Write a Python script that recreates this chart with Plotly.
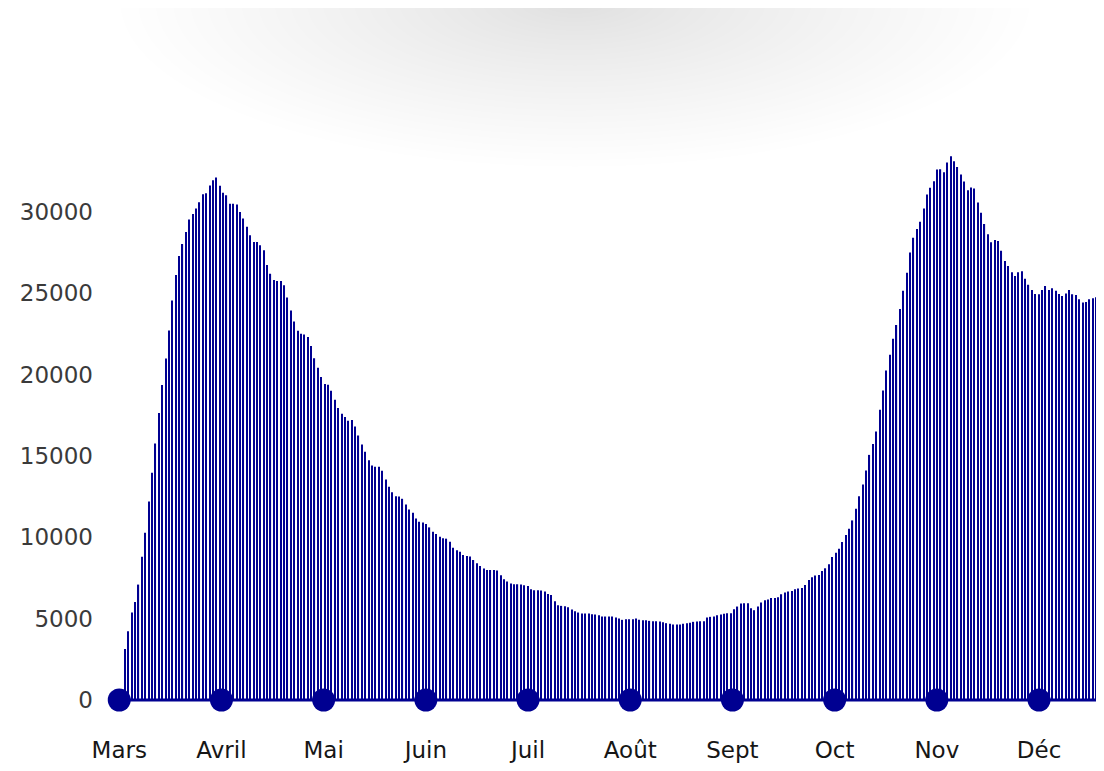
import plotly.graph_objects as go

# Daily values (one bar per day)
hosp_values = [
    3126, 4230, 5376, 6027, 7091, 8808, 10278, 12199, 13956, 15754,
    17634, 19350, 20985, 22702, 24540, 26114, 27279, 28014, 28750, 29526,
    29853, 30200, 30589, 31079, 31140, 31611, 31937, 32103, 31588, 31159,
    31018, 30485, 30485, 30448, 29976, 29589, 29075, 28547, 28137, 28137,
    27934, 27628, 26727, 26193, 25807, 25746, 25746, 25482, 24722, 23925,
    23251, 22681, 22500, 22450, 22300, 21750, 21000,
    20413, 19843, 19414, 19371, 19003, 18451, 17942, 17593, 17390, 17164,
    17207, 16796, 16245, 15693, 15245, 14730, 14406, 14326, 14326, 14081,
    13547, 13100, 12769, 12524, 12505, 12363, 12015, 11708, 11506, 11157,
    10954, 10911, 10807, 10605, 10341, 10194, 10035, 9931, 9912, 9728,
    9361, 9195, 9115, 8907, 8846, 8809, 8600, 8398, 8233, 8073,
    7987, 7987, 7987, 7960, 7663, 7417, 7274, 7151, 7111, 7111,
    7090, 7050, 7009, 6804, 6743, 6743, 6720, 6661, 6518, 6457, 6069,
    5824, 5783, 5762, 5701, 5558, 5456, 5374, 5313, 5313, 5313,
    5272, 5251, 5211, 5129, 5129, 5129, 5129, 5068, 5007, 4925,
    4966, 4966, 4966, 5007, 4925, 4904, 4904, 4863, 4843, 4843,
    4822, 4781, 4720, 4679, 4638, 4638, 4638, 4679, 4720, 4740,
    4802, 4822, 4843, 4843, 5068, 5109, 5129, 5211, 5251, 5292,
    5333, 5333, 5578, 5742, 5926, 5946, 5946, 5640, 5517, 5742,
    5987, 6130, 6171, 6273, 6273, 6314, 6498, 6600, 6661, 6702,
    6804, 6845, 6886, 7070, 7376, 7540, 7642, 7683, 7928,
    8092, 8337, 8786, 9052, 9297, 9706, 10135, 10522, 11034, 11748,
    12524, 13241, 14099, 15060, 15733, 16490, 17838, 19021, 20247, 21210,
    22191, 23040, 24030, 25140, 26245, 27490,
    28400, 28934, 29381, 30200, 31061, 31466, 31876, 32593, 32612, 32428,
    33022, 33409, 33102, 32753, 32287, 31858, 31324, 31490, 31428, 30570,
    29933, 29240, 28609, 28118, 28259, 28198, 27603, 26972, 26666, 26279,
    26053, 26279, 26340, 25887, 25519, 25194, 24949, 24929, 25194, 25440,
    25194, 25298, 25151, 24949, 24827, 24970, 25194, 24929, 24888, 24622,
    24416, 24459, 24622, 24684, 24745, 24581, 24416,
]

month_labels = ["Mars", "Avril", "Mai", "Juin", "Juil", "Août", "Sept", "Oct", "Nov", "Déc"]
month_positions = [-1.7, 28.5, 58.7, 88.9, 119.1, 149.3, 179.5, 209.7, 239.9, 270.1]

y_tick_values = [0, 5000, 10000, 15000, 20000, 25000, 30000]
y_tick_labels = ["0", "5000", "10000", "15000", "20000", "25000", "30000"]

BLUE = "#000091"
# page has an 8px body margin: figure is 1096x763 so it fits the window
W, H = 1096, 763
ML, MR, MT, MB = 92, 0, 112, 51

day_index = list(range(len(hosp_values)))
x_range = [-7.39, len(hosp_values) - 0.7]
y_range = [-1229, 35635]

fig = go.Figure()

fig.add_trace(go.Bar(
    x=day_index, y=hosp_values,
    marker=dict(color=BLUE, line=dict(width=0)),
    hoverinfo="skip", showlegend=False,
))

fig.add_trace(go.Scatter(
    x=[month_positions[0], x_range[1]], y=[0, 0],
    mode="lines", line=dict(color=BLUE, width=3),
    hoverinfo="skip", showlegend=False, cliponaxis=False,
))

fig.add_trace(go.Scatter(
    x=month_positions, y=[0] * len(month_positions),
    mode="markers", marker=dict(color=BLUE, size=23, line=dict(width=0)),
    hoverinfo="skip", showlegend=False, cliponaxis=False,
))

# soft grey shadow at the top of the page
pw = W - ML - MR
ph = H - MT - MB
def px_to_paper_x(px):
    return (px - ML) / pw
def px_to_paper_y(py):
    return (H - MB - py) / ph

shapes = []
N = 32
cx, cy, rx, ry = 567, -6, 455, 165
for k in range(N, 0, -1):
    f = (k / N) ** 1.25
    shapes.append(dict(
        type="circle", xref="paper", yref="paper", layer="below",
        x0=px_to_paper_x(cx - rx * f), x1=px_to_paper_x(cx + rx * f),
        y0=px_to_paper_y(cy + ry * f), y1=px_to_paper_y(cy - ry * f),
        fillcolor="rgba(0,0,0,0.0046)", line=dict(width=0),
    ))

fig.update_layout(
    width=W, height=H,
    margin=dict(l=ML, r=MR, t=MT, b=MB, pad=0),
    paper_bgcolor="white", plot_bgcolor="white",
    bargap=0.66,
    shapes=shapes,
    xaxis=dict(
        range=x_range, showgrid=False, zeroline=False, showline=False,
        tickmode="array", tickvals=month_positions, ticktext=month_labels,
        ticks="", ticklabelstandoff=14,
        tickfont=dict(family="DejaVu Sans", size=23, color="#161616"),
        fixedrange=True,
    ),
    yaxis=dict(
        range=y_range, showgrid=False, zeroline=False, showline=False,
        tickmode="array", tickvals=y_tick_values, ticktext=y_tick_labels,
        ticks="", ticklabelstandoff=6,
        tickfont=dict(family="DejaVu Sans", size=23, color="#3a3a3a"),
        fixedrange=True,
    ),
)

fig.write_html("out.html")
